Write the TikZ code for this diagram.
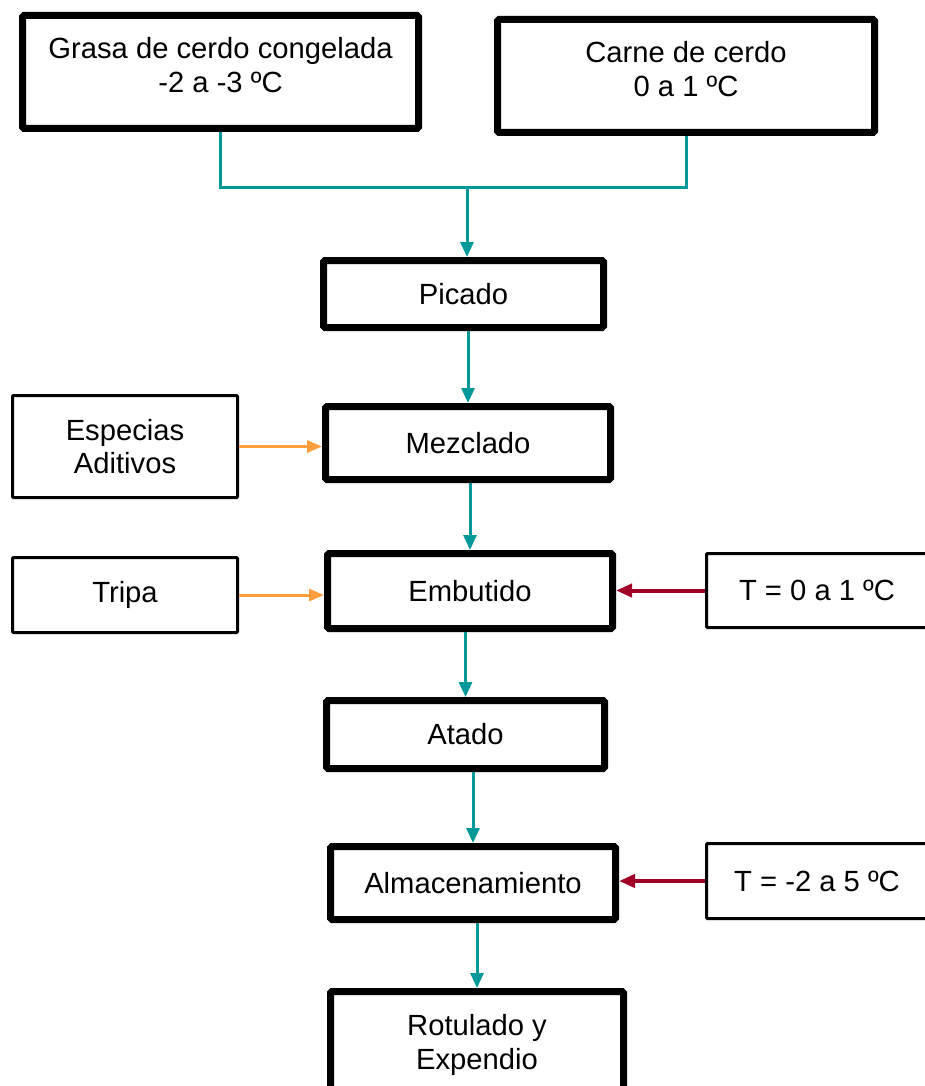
\documentclass[tikz,border=0pt]{standalone}
\usepackage{fontspec}
\setmainfont{Liberation Sans}
\usetikzlibrary{arrows.meta}
\definecolor{verdeazul}{RGB}{0,153,153}
\definecolor{naranja}{RGB}{255,158,61}
\definecolor{granate}{RGB}{160,0,40}
\tikzset{
    proceso/.style={draw, line width=7pt, rounded corners=1.5pt, align=center, inner sep=0pt},
    entrada/.style={draw, line width=3pt, rounded corners=1pt, align=center, inner sep=0pt},
    flujo/.style={-{Triangle[length=15pt,width=13pt]}, line width=3pt, draw=verdeazul, fill=verdeazul},
    insumo/.style={-{Triangle[length=15pt,width=12pt]}, line width=3pt, draw=naranja, fill=naranja},
    calor/.style={-{Triangle[length=16pt,width=13pt]}, line width=4pt, draw=granate, fill=granate}
}
\begin{document}
\begin{tikzpicture}[x=1pt, y=-1pt, font=\fontsize{29.2}{33.5}\selectfont]
    \useasboundingbox (0,0) rectangle (925,1086);

    \node[proceso, minimum width=396pt, minimum height=113pt] (grasa) at (220.5,72) {};
    \node[align=center] (grasatxt) at (220.5,65) {Grasa de cerdo congelada\\-2 a -3 ºC};
    \node[proceso, minimum width=377pt, minimum height=113pt] (carne) at (686,76) {};
    \node[align=center] (carnetxt) at (686,69) {Carne de cerdo\\0 a 1 ºC};
    \coordinate (junta) at (467,188);

    \node[proceso, minimum width=280pt, minimum height=67pt] (picado) at (463.5,294) {Picado};
    \node[proceso, minimum width=285pt, minimum height=73pt] (mezclado) at (468,443) {Mezclado};
    \node[proceso, minimum width=285pt, minimum height=75pt] (embutido) at (470,591) {Embutido};
    \node[proceso, minimum width=278pt, minimum height=68pt] (atado) at (465.5,734.5) {Atado};
    \node[proceso, minimum width=285pt, minimum height=73pt] (almacen) at (473,883) {Almacenamiento};
    \node[proceso, minimum width=293pt, minimum height=107pt] (rotulado) at (477,1045) {Rotulado y\\Expendio};

    \node[entrada, minimum width=225pt, minimum height=102pt] (especias) at (125,446.5) {Especias\\Aditivos};
    \node[entrada, minimum width=225pt, minimum height=75pt] (tripa) at (125,595) {Tripa};
    \node[entrada, minimum width=221pt, minimum height=74pt] (temp1) at (817,590.5) {T = 0 a 1 ºC};
    \node[entrada, minimum width=221pt, minimum height=75pt] (temp2) at (817,881) {T = -2 a 5 ºC};

    \draw[line width=3pt, verdeazul] (grasa.south) |- (junta) -| (carne.south);
    \draw[flujo] (junta) -- (junta |- picado.north);
    \foreach \a/\b in {picado/mezclado, mezclado/embutido, embutido/atado, atado/almacen, almacen/rotulado}
        \draw[flujo] (\a.south -| \b.north) -- (\b.north);

    \draw[insumo] (especias.east) -- (especias.east -| mezclado.west);
    \draw[insumo] (tripa.east) -- (tripa.east -| embutido.west);
    \draw[calor] (temp1.west) -- (temp1.west -| embutido.east);
    \draw[calor] (temp2.west) -- (temp2.west -| almacen.east);
\end{tikzpicture}
\end{document}
